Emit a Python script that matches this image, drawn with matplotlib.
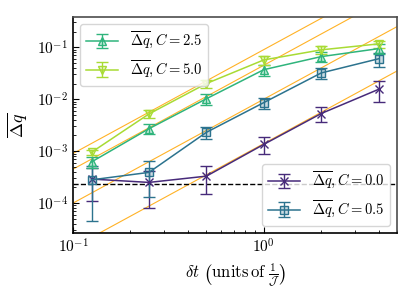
import numpy as np
import matplotlib
matplotlib.use('Agg')
import matplotlib.pyplot as plt

plt.rcParams['mathtext.fontset'] = 'cm'
plt.rcParams['font.family'] = 'serif'
plt.rcParams['font.serif'] = ['cmr10', 'DejaVu Serif']
plt.rcParams['axes.formatter.use_mathtext'] = True

dt = [0.125, 0.25, 0.5, 1.0, 2.0, 4.0]

q_c00 = [2.9e-4, 2.5e-4, 3.3e-4, 1.35e-3, 5.3e-3, 1.55e-2]
e_c00 = [1.8e-4, 1.7e-4, 1.8e-4, 4.8e-4, 1.7e-3, 6.5e-3]
q_c05 = [2.8e-4, 3.9e-4, 2.3e-3, 8.6e-3, 3.2e-2, 6.0e-2]
e_c05 = [2.35e-4, 2.6e-4, 6e-4, 2.0e-3, 8e-3, 1.9e-2]
q_c25 = [6.2e-4, 2.7e-3, 1.02e-2, 3.7e-2, 6.6e-2, 9.4e-2]
e_c25 = [1.5e-4, 6e-4, 2.3e-3, 9e-3, 1.4e-2, 2e-2]
q_c50 = [9.5e-4, 5.2e-3, 2.0e-2, 5.7e-2, 8.9e-2, 1.16e-1]
e_c50 = [1.2e-4, 9e-4, 3.5e-3, 1.1e-2, 1.6e-2, 1.8e-2]

# prefactors of the dt^2 guide lines
guide_pref = [0.09, 0.045, 0.010, 0.0014]
noise_floor = 2.35e-4

cmap = plt.get_cmap('viridis')
series = [
    (q_c00, e_c00, 'x', cmap(0.12), r'$\overline{\Delta q}, C = 0.0$'),
    (q_c05, e_c05, 's', cmap(0.38), r'$\overline{\Delta q}, C = 0.5$'),
    (q_c25, e_c25, '^', cmap(0.65), r'$\overline{\Delta q}, C = 2.5$'),
    (q_c50, e_c50, 'v', cmap(0.87), r'$\overline{\Delta q}, C = 5.0$'),
]

fig = plt.figure(figsize=(4.15, 2.95), dpi=100)
ax = fig.add_axes([0.176, 0.21, 0.781, 0.732])

xs = np.geomspace(0.1, 5, 50)
for a in guide_pref:
    ax.plot(xs, a * xs**2, color='orange', lw=0.8, alpha=0.85, zorder=1)

ax.axhline(noise_floor, color='k', ls='--', lw=1.0, zorder=2)

handles = []
for y, e, m, c, lab in series:
    h = ax.errorbar(dt, y, yerr=e, marker=m, color=c, lw=1.1, ms=6,
                    mfc=(c[0], c[1], c[2], 0.25), mec=c, capsize=4,
                    elinewidth=1.0, label=lab, zorder=3)
    handles.append(h)

ax.set_xscale('log')
ax.set_yscale('log')
ax.set_xlim(0.1, 5)
ax.set_ylim(2.65e-5, 0.38)

ax.tick_params(which='both', direction='in', labelsize=11)
ax.tick_params(which='major', length=4)
ax.tick_params(which='minor', length=2)
for s in ['left', 'bottom']:
    ax.spines[s].set_linewidth(1.2)
for s in ['top', 'right']:
    ax.spines[s].set_color('0.3')
    ax.spines[s].set_linewidth(1.2)

ax.set_xlabel(r'$\delta t\ \left(\mathrm{units\,of}\ \frac{1}{\mathcal{J}}\right)$', fontsize=12)
ax.set_ylabel(r'$\overline{\Delta q}$', fontsize=13, labelpad=6)

leg1 = ax.legend(handles=handles[2:], loc='upper left', fontsize=10.5,
                 handlelength=2.2)
ax.add_artist(leg1)
ax.legend(handles=handles[:2], loc='lower right', fontsize=10.5,
          handlelength=2.2)

fig.savefig('out.png', dpi=100)
